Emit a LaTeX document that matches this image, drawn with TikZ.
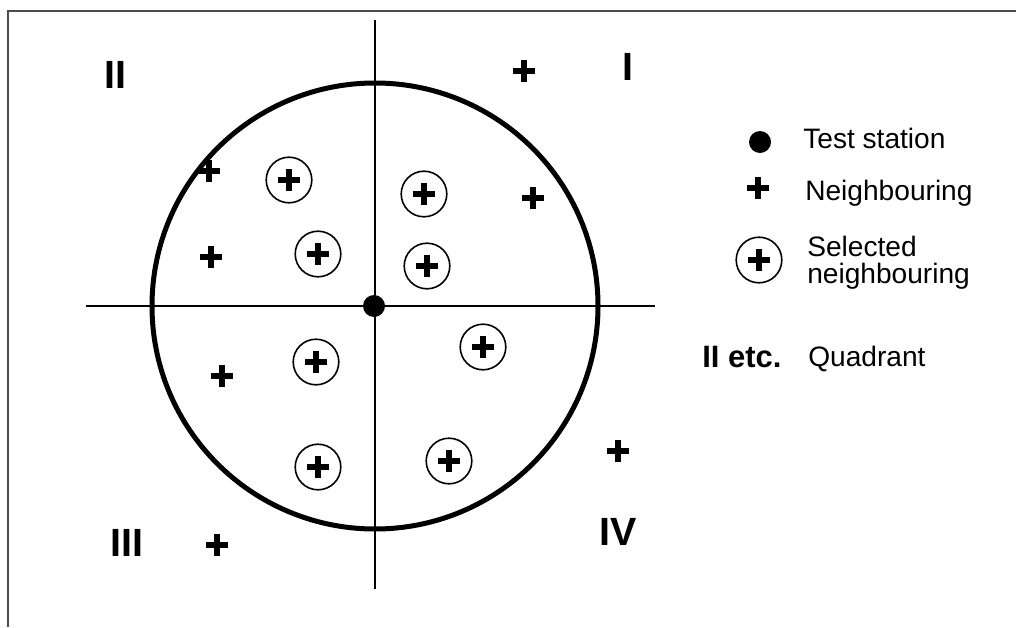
\documentclass[tikz,border=0pt]{standalone}
\usepackage{fontspec}
\setmainfont{Liberation Sans}

\tikzset{
  plusmark/.style={path picture={\draw[line width=1.45mm]
      ([xshift=-2.8mm]path picture bounding box.center) -- ([xshift=2.8mm]path picture bounding box.center)
      ([yshift=-2.8mm]path picture bounding box.center) -- ([yshift=2.8mm]path picture bounding box.center);}},
  nb/.style={rectangle,minimum size=7mm,inner sep=0pt,plusmark},
  sel/.style={circle,draw,line width=0.4mm,minimum size=11.4mm,inner sep=0pt,plusmark},
  quad/.style={font=\fontsize{28}{30}\selectfont\bfseries,inner sep=0pt},
  legtext/.style={font=\fontsize{20}{19}\selectfont,inner sep=0pt,align=left}
}

\begin{document}
\begin{tikzpicture}[x=0.25mm,y=-0.25mm]
\useasboundingbox (0,0) rectangle (1016,627);
\draw[black!70,line width=0.5mm] (8,627) -- (8,11) -- (1016,11);

% axes and circle
\coordinate (top) at (375,20);
\coordinate (bottom) at (375,589);
\coordinate (left) at (86,306);
\coordinate (right) at (655,306);
\draw[line width=0.45mm] (top) -- (bottom);
\draw[line width=0.45mm] (left) -- (right);
\node[circle,draw,line width=1.25mm,minimum size=111.5mm,inner sep=0pt] (area) at (375,306) {};
\node[circle,fill,minimum size=5.5mm,inner sep=0pt] (station) at (374,306) {};

% quadrants
\node[quad] (q1) at (628,67) {I};
\node[quad] (q2) at (115,75) {II};
\node[quad] (q3) at (127,543) {III};
\node[quad] (q4) at (618,532) {IV};

% neighbouring
\node[nb] (n1) at (524,71) {};
\node[nb] (n2) at (209,171) {};
\node[nb] (n3) at (533,198) {};
\node[nb] (n4) at (211,257) {};
\node[nb] (n5) at (222,376) {};
\node[nb] (n6) at (618,451) {};
\node[nb] (n7) at (217,545) {};

% selected
\node[sel] (s1) at (289,180) {};
\node[sel] (s2) at (424,194) {};
\node[sel] (s3) at (318,254) {};
\node[sel] (s4) at (427,266) {};
\node[sel] (s5) at (483,347) {};
\node[sel] (s6) at (316,362) {};
\node[sel] (s7) at (318,467) {};
\node[sel] (s8) at (449,461) {};

% legend
\node[circle,fill,minimum size=5.5mm,inner sep=0pt] (ldot) at (760,142) {};
\node[nb] (lnb) at (758,188) {};
\node[sel] (lsel) at (759,260) {};
\node[legtext,anchor=base west] (tdot) at (803,148) {Test station};
\node[legtext,anchor=base west] (tnb) at (805,200) {Neighbouring};
\node[legtext,anchor=base west] (tsel) at (807,283) {Selected\\neighbouring};
\node[anchor=base west,inner sep=0pt,font=\fontsize{22}{24}\selectfont\bfseries] (lquad) at (702,367) {II etc.};
\node[legtext,anchor=base west] (tquad) at (808,366) {Quadrant};
\end{tikzpicture}
\end{document}
